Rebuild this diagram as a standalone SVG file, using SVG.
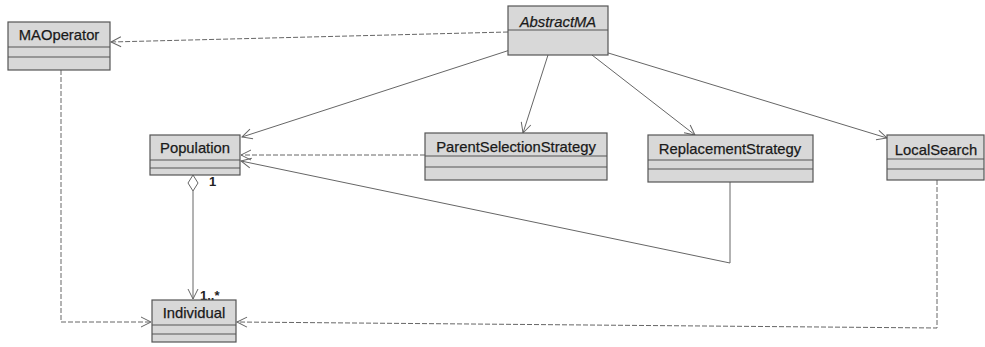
<svg xmlns="http://www.w3.org/2000/svg" width="985" height="347" viewBox="0 0 985 347">
<style>
.box{fill:#d8d8d8;stroke:#555;stroke-width:1.2}
.sep{stroke:#555;stroke-width:1;fill:none}
.t{font-family:"Liberation Sans",Arial,sans-serif;font-size:14.8px;fill:#1a1a1a;stroke:#1a1a1a;stroke-width:0.25;text-anchor:middle}
.it{font-style:italic}
.ln{fill:none;stroke:#666;stroke-width:1}
.dash{stroke-dasharray:5,2}
.lbl{font-family:"Liberation Sans",Arial,sans-serif;font-size:13px;font-weight:bold;fill:#222}
</style>
<defs>
<marker id="arr" markerUnits="userSpaceOnUse" markerWidth="14" markerHeight="12" refX="11" refY="6" orient="auto">
<path d="M1,1 L11,6 L1,11" fill="none" stroke="#666" stroke-width="1"/>
</marker>
</defs>
<rect width="985" height="347" fill="#fff"/>
<g id="connectors">
<path class="ln dash" d="M508,32 L111,42" marker-end="url(#arr)"/>
<path class="ln" d="M510,50 L242,137" marker-end="url(#arr)"/>
<path class="ln" d="M548,55 L523,133" marker-end="url(#arr)"/>
<path class="ln" d="M592,55 L695,135" marker-end="url(#arr)"/>
<path class="ln" d="M605,52 L887,138" marker-end="url(#arr)"/>
<path class="ln dash" d="M425,155 L241,155" marker-end="url(#arr)"/>
<path class="ln" d="M730,182 L730,263 L241,161" marker-end="url(#arr)"/>
<path class="ln" d="M193,191 L193,299" marker-end="url(#arr)"/>
<path d="M193,175 L198,183 L193,191 L188,183 Z" fill="#fff" stroke="#666" stroke-width="1"/>
<path class="ln dash" d="M61,70 L61,322 L151,322" marker-end="url(#arr)"/>
<path class="ln dash" d="M937,180 L937,328 L237,322" marker-end="url(#arr)"/>
<text class="lbl" x="209" y="186">1</text>
<text class="lbl" x="200" y="300">1..*</text>
</g>
<g id="MAOperator">
<rect class="box" x="8" y="22" width="102" height="48"/>
<line class="sep" x1="8" y1="47" x2="110" y2="47"/>
<line class="sep" x1="8" y1="57" x2="110" y2="57"/>
<text class="t" x="59" y="40">MAOperator</text>
</g>
<g id="AbstractMA">
<rect class="box" x="508" y="6" width="100" height="49"/>
<line class="sep" x1="508" y1="30" x2="608" y2="30"/>
<text class="t it" x="558" y="27">AbstractMA</text>
</g>
<g id="Population">
<rect class="box" x="150" y="135" width="90" height="40"/>
<line class="sep" x1="150" y1="160" x2="240" y2="160"/>
<line class="sep" x1="150" y1="168" x2="240" y2="168"/>
<text class="t" x="195" y="153">Population</text>
</g>
<g id="ParentSelectionStrategy">
<rect class="box" x="425" y="133" width="182" height="47"/>
<line class="sep" x1="425" y1="156" x2="607" y2="156"/>
<line class="sep" x1="425" y1="167" x2="607" y2="167"/>
<text class="t" x="516" y="152">ParentSelectionStrategy</text>
</g>
<g id="ReplacementStrategy">
<rect class="box" x="648" y="135" width="165" height="47"/>
<line class="sep" x1="648" y1="160" x2="813" y2="160"/>
<line class="sep" x1="648" y1="169" x2="813" y2="169"/>
<text class="t" x="730" y="154">ReplacementStrategy</text>
</g>
<g id="LocalSearch">
<rect class="box" x="887" y="135" width="97" height="45"/>
<line class="sep" x1="887" y1="159" x2="984" y2="159"/>
<line class="sep" x1="887" y1="169" x2="984" y2="169"/>
<text class="t" x="936" y="155">LocalSearch</text>
</g>
<g id="Individual">
<rect class="box" x="152" y="300" width="84" height="42"/>
<line class="sep" x1="152" y1="325" x2="236" y2="325"/>
<line class="sep" x1="152" y1="334" x2="236" y2="334"/>
<text class="t" x="194" y="318">Individual</text>
</g>
</svg>
